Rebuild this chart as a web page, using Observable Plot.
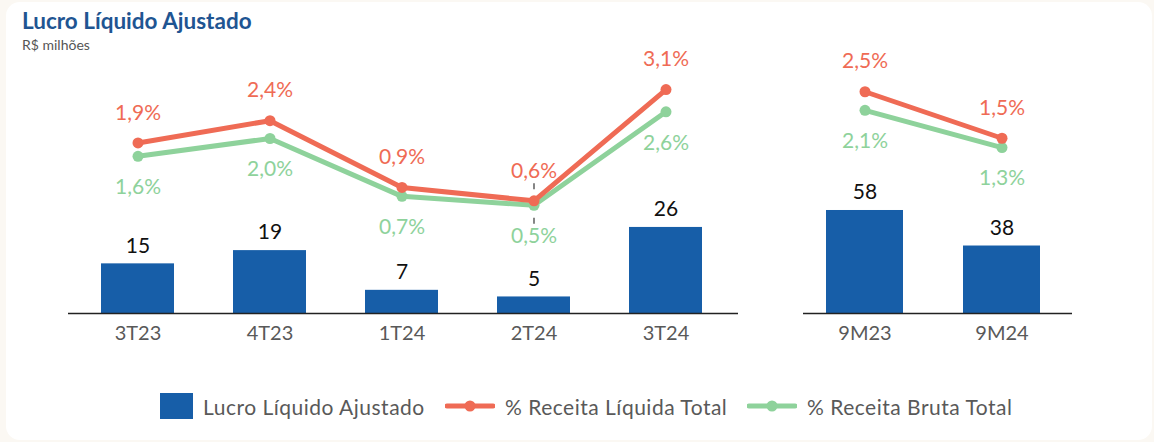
<!DOCTYPE html>
<html>
<head>
<meta charset="utf-8">
<script src="https://cdn.jsdelivr.net/npm/d3@7"></script>
<script src="https://cdn.jsdelivr.net/npm/@observablehq/plot@0.6"></script>
<style>
  html, body { margin: 0; padding: 0; background: #fbf8f3; }
  #card { position: absolute; left: 6px; top: 2px; width: 1146px; height: 438px; background: #ffffff; border-radius: 14px; }
  #root { position: absolute; left: 0; top: 0; width: 1154px; height: 442px; font-family: Lato, "Open Sans", sans-serif; }
  #title { position: absolute; left: 22px; top: 7px; font-size: 22.5px; font-weight: 700; color: #1f5592; white-space: nowrap; }
  #subtitle { position: absolute; left: 22px; top: 36px; font-size: 14px; color: #555; white-space: nowrap; }
  .layer { position: absolute; left: 0; top: 55px; }
  #legend { position: absolute; left: 0; top: 392px; width: 1154px; height: 28px; font-size: 21px; letter-spacing: 0.5px; color: #595959; }
  .lg { position: absolute; top: 0; display: flex; align-items: center; height: 28px; white-space: nowrap; }
</style>
</head>
<body>
<div id="card"></div>
<div id="root">
  <div id="title">Lucro Líquido Ajustado</div>
  <div id="subtitle">R$ milhões</div>
  <div id="legend"></div>
</div>
<script>
// ---- Data ----
const quarters = ["3T23", "4T23", "1T24", "2T24", "3T24"];
const lucroTrim = [15, 19, 7, 5, 26];
const receitaLiqTrim = [1.9, 2.4, 0.9, 0.6, 3.1];
const receitaBrutaTrim = [1.6, 2.0, 0.7, 0.5, 2.6];

const periods = ["9M23", "9M24"];
const lucroAcum = [58, 38];
const receitaLiqAcum = [2.5, 1.5];
const receitaBrutaAcum = [2.1, 1.3];

const seriesNames = ["Lucro Líquido Ajustado", "% Receita Líquida Total", "% Receita Bruta Total"];

// ---- Styles ----
const BLUE = "#175ea8", RED = "#ef6b55", GREEN = "#8ed29b";
const FONT = "Lato, 'Open Sans', sans-serif";
const W = 1154, H = 295;
const fmtPct = v => v.toFixed(1).replace(".", ",") + "%";

function panel(cats, bars, red, green, cfg) {
  const rows = cats.map((c, i) => ({cat: c, lucro: bars[i], liq: red[i], bruta: green[i]}));
  const xScale = {type: "band", domain: cats, range: cfg.xRange, paddingInner: cfg.pi, paddingOuter: cfg.po};
  const leaderRows = rows.filter(d => d.cat === cfg.leader);

  const barsPlot = Plot.plot({
    width: W, height: H,
    marginLeft: cfg.frame[0], marginRight: W - cfg.frame[1], marginTop: 0, marginBottom: H - 258,
    style: {fontFamily: FONT, background: "transparent", overflow: "visible"},
    x: {...xScale, label: null},
    y: {domain: cfg.barDomain, range: [258, 258 - cfg.barPx * cfg.barDomain[1]], axis: null},
    marks: [
      Plot.barY(rows, {x: "cat", y: "lucro", fill: BLUE}),
      Plot.ruleY([0], {stroke: "#222", strokeWidth: 1.5}),
      Plot.text(rows, {x: "cat", y: "lucro", text: d => String(d.lucro), dy: -18, fontSize: 21, fill: "#111"}),
      Plot.axisX({tickSize: 0, tickPadding: 12, fontSize: 20, color: "#595959", label: null})
    ]
  });

  const linesPlot = Plot.plot({
    width: W, height: H,
    marginLeft: cfg.frame[0], marginRight: W - cfg.frame[1], marginTop: 0, marginBottom: H - 258,
    style: {fontFamily: FONT, background: "transparent", overflow: "visible"},
    x: {...xScale, axis: null},
    y: {domain: [0, 3], range: [cfg.pct0, cfg.pct0 - 3 * cfg.pctPx], axis: null},
    marks: [
      Plot.ruleX(leaderRows, {x: "cat", y1: "liq", y2: "liq", dy: -14, insetTop: -3, insetBottom: -3, stroke: "#444", strokeWidth: 1.3}),
      Plot.ruleX(leaderRows, {x: "cat", y1: "bruta", y2: "bruta", dy: 16, insetTop: -3, insetBottom: -3, stroke: "#444", strokeWidth: 1.3}),
      Plot.line(rows, {x: "cat", y: "bruta", stroke: GREEN, strokeWidth: 5}),
      Plot.dot(rows, {x: "cat", y: "bruta", fill: GREEN, r: 5.5}),
      Plot.line(rows, {x: "cat", y: "liq", stroke: RED, strokeWidth: 5}),
      Plot.dot(rows, {x: "cat", y: "liq", fill: RED, r: 5.5}),
      Plot.text(rows, {x: "cat", y: "liq", text: d => fmtPct(d.liq), dy: -30, fontSize: 21, fill: RED}),
      Plot.text(rows, {x: "cat", y: "bruta", text: d => fmtPct(d.bruta), dy: 31, fontSize: 21, fill: GREEN})
    ]
  });

  for (const svg of [barsPlot, linesPlot]) {
    svg.classList.add("layer");
    document.getElementById("root").appendChild(svg);
  }
}

panel(quarters, lucroTrim, receitaLiqTrim, receitaBrutaTrim, {
  frame: [68, 738], xRange: [69.75, 732.25], pi: 0.45, po: 0.225,
  barDomain: [0, 30], barPx: 3.31,
  pct0: 172, pctPx: 44.5, leader: "2T24"
});

panel(periods, lucroAcum, receitaLiqAcum, receitaBrutaAcum, {
  frame: [803, 1072], xRange: [795.4, 1069.4], pi: 0.44, po: 0.22,
  barDomain: [0, 60], barPx: 1.776,
  pct0: 152.5, pctPx: 46.5, leader: null
});

// ---- Legend ----
const legend = document.getElementById("legend");
const items = [
  {name: seriesNames[0], kind: "bar", color: BLUE, left: 160},
  {name: seriesNames[1], kind: "line", color: RED, left: 445},
  {name: seriesNames[2], kind: "line", color: GREEN, left: 747}
];
for (const it of items) {
  const div = document.createElement("div");
  div.className = "lg";
  div.style.left = it.left + "px";
  const sw = it.kind === "bar"
    ? `<svg width="33" height="26" style="margin-right:10px"><rect x="0" y="0" width="33" height="26" fill="${it.color}"/></svg>`
    : `<svg width="50" height="14" style="margin-right:10px"><line x1="2" y1="7" x2="48" y2="7" stroke="${it.color}" stroke-width="5" stroke-linecap="round"/><circle cx="25" cy="7" r="5.5" fill="${it.color}"/></svg>`;
  div.innerHTML = sw + `<span>${it.name}</span>`;
  legend.appendChild(div);
}
</script>
</body>
</html>
